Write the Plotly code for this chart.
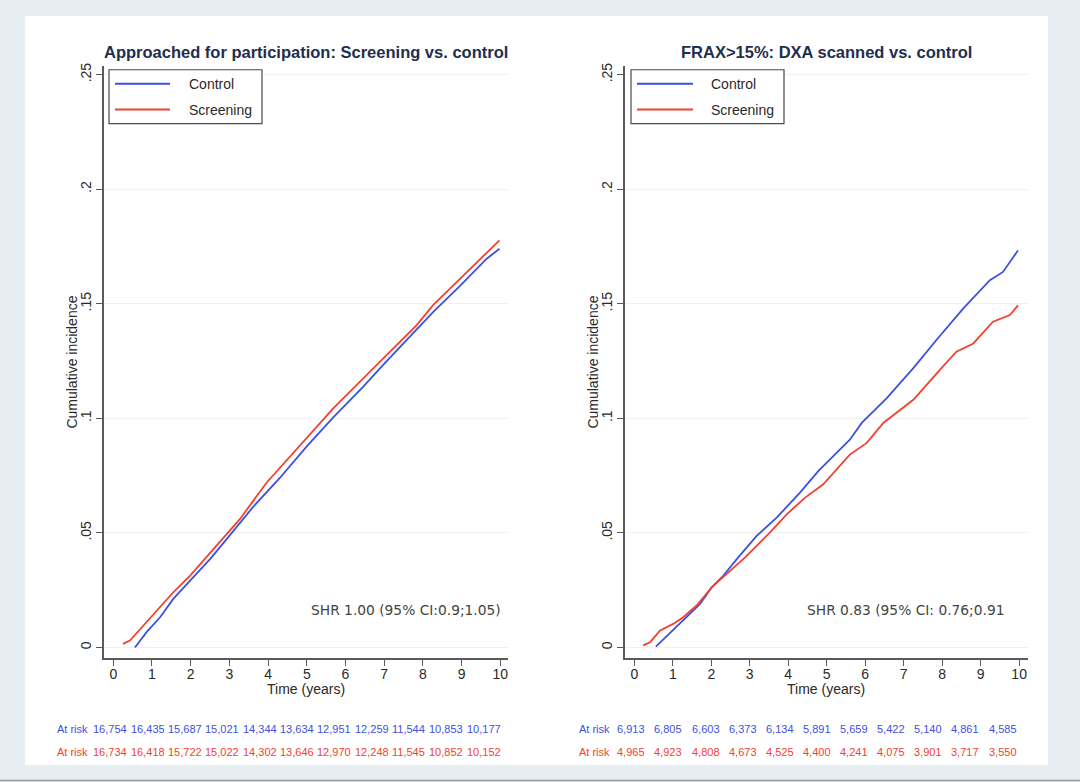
import plotly.graph_objects as go

# ---------------- data ----------------
# Panel A: Approached for participation
t_ctrl_a = [0.56, 0.86, 1.21, 1.55, 1.98, 2.50, 2.93, 3.27, 3.62, 4.31, 5.00, 5.69, 6.46, 6.98, 7.75, 8.27, 8.96, 9.65, 9.98]
ci_ctrl_a = [0.0, 0.0067, 0.0132, 0.0212, 0.0291, 0.0386, 0.0473, 0.0545, 0.0615, 0.0741, 0.0878, 0.1005, 0.1139, 0.1235, 0.1371, 0.1465, 0.1578, 0.1697, 0.1740]
t_scr_a = [0.25, 0.43, 0.78, 1.12, 1.55, 1.98, 2.58, 3.00, 3.27, 3.96, 4.65, 5.26, 5.69, 6.46, 7.24, 7.84, 8.27, 8.96, 9.65, 9.98]
ci_scr_a = [0.0016, 0.0030, 0.0096, 0.0161, 0.0241, 0.0313, 0.0429, 0.0510, 0.0560, 0.0719, 0.0849, 0.0965, 0.1045, 0.1175, 0.1306, 0.1407, 0.1495, 0.1610, 0.1726, 0.1777]

# Panel B: FRAX>15%, DXA scanned
t_ctrl_b = [0.56, 1.01, 1.45, 1.71, 2.01, 2.31, 2.70, 3.18, 3.70, 4.30, 4.78, 5.30, 5.60, 5.91, 6.56, 7.25, 7.85, 8.55, 9.24, 9.58, 9.97]
ci_ctrl_b = [0.0004, 0.0078, 0.0146, 0.0190, 0.0262, 0.0313, 0.0393, 0.0487, 0.0567, 0.0675, 0.0770, 0.0857, 0.0907, 0.0980, 0.1088, 0.1219, 0.1342, 0.1480, 0.1603, 0.1639, 0.1733]
t_scr_b = [0.23, 0.41, 0.67, 1.01, 1.27, 1.62, 2.01, 2.31, 2.88, 3.52, 3.96, 4.43, 4.91, 5.60, 6.04, 6.47, 7.25, 7.94, 8.37, 8.81, 9.32, 9.76, 9.97]
ci_scr_b = [0.0009, 0.0023, 0.0074, 0.0103, 0.0132, 0.0183, 0.0262, 0.0306, 0.0393, 0.0501, 0.0581, 0.0653, 0.0712, 0.0842, 0.0893, 0.0980, 0.1081, 0.1212, 0.1291, 0.1327, 0.1422, 0.1451, 0.1493]

risk_ctrl_a = ["16,754", "16,435", "15,687", "15,021", "14,344", "13,634", "12,951", "12,259", "11,544", "10,853", "10,177"]
risk_scr_a = ["16,734", "16,418", "15,722", "15,022", "14,302", "13,646", "12,970", "12,248", "11,545", "10,852", "10,152"]
risk_ctrl_b = ["6,913", "6,805", "6,603", "6,373", "6,134", "5,891", "5,659", "5,422", "5,140", "4,861", "4,585"]
risk_scr_b = ["4,965", "4,923", "4,808", "4,673", "4,525", "4,400", "4,241", "4,075", "3,901", "3,717", "3,550"]

y_tickvals = [0, 0.05, 0.1, 0.15, 0.2, 0.25]
y_ticktext = ["0", ".05", ".1", ".15", ".2", ".25"]
x_tickvals = list(range(0, 11))

titles = ["Approached for participation: Screening vs. control", "FRAX>15%: DXA scanned vs. control"]
shr_texts = ["SHR 1.00 (95% CI:0.9;1.05)", "SHR 0.83 (95% CI: 0.76;0.91"]
series_names = ["Control", "Screening"]

# ---------------- style ----------------
W, H = 1080, 782
BLUE = "#3d50e2"
RED = "#f2412f"
AXC = "#5a5a5a"
TXT = "#2a2a2a"
FONT = "Liberation Sans, Arial, sans-serif"


def px(x):
    return x / W


def py(y):
    return 1 - y / H


fig = go.Figure()

fig.add_trace(go.Scatter(x=t_ctrl_a, y=ci_ctrl_a, mode="lines", name="Control",
                         line=dict(color=BLUE, width=1.8), xaxis="x", yaxis="y", showlegend=False))
fig.add_trace(go.Scatter(x=t_scr_a, y=ci_scr_a, mode="lines", name="Screening",
                         line=dict(color=RED, width=1.8), xaxis="x", yaxis="y", showlegend=False))
fig.add_trace(go.Scatter(x=t_ctrl_b, y=ci_ctrl_b, mode="lines", name="Control",
                         line=dict(color=BLUE, width=1.8), xaxis="x2", yaxis="y2", showlegend=False))
fig.add_trace(go.Scatter(x=t_scr_b, y=ci_scr_b, mode="lines", name="Screening",
                         line=dict(color=RED, width=1.8), xaxis="x2", yaxis="y2", showlegend=False))

ydom = [py(658), py(63)]
yrange = [-0.0048, 0.2539]

common_x = dict(tickmode="array", tickvals=x_tickvals, showline=True, linecolor=AXC, linewidth=1.5,
                ticks="outside", ticklen=6, tickwidth=1.2, tickcolor=AXC, showgrid=False, zeroline=False,
                ticklabelstandoff=-4,
                tickfont=dict(family=FONT, size=14, color=TXT))
common_y = dict(tickmode="array", tickvals=y_tickvals, ticktext=y_ticktext, tickangle=-90,
                showline=True, linecolor=AXC, linewidth=1.5, ticks="outside", ticklen=6, tickwidth=1.2,
                tickcolor=AXC, showgrid=True, gridcolor="#eef2f4", gridwidth=1, zeroline=False,
                range=yrange, domain=ydom, tickfont=dict(family=FONT, size=14, color=TXT))

fig.update_layout(
    width=W, height=H, autosize=False,
    margin=dict(l=0, r=0, t=0, b=0),
    paper_bgcolor="#e7eef1", plot_bgcolor="white",
    xaxis=dict(domain=[px(104), px(508)], range=[-0.24, 10.2], anchor="y", **common_x),
    yaxis=dict(anchor="x", **common_y),
    xaxis2=dict(domain=[px(625), px(1028)], range=[-0.242, 10.23], anchor="y2", **common_x),
    yaxis2=dict(anchor="x2", **common_y),
)

shapes = []
# white inner panel
shapes.append(dict(type="rect", xref="paper", yref="paper", x0=px(25), x1=px(1048), y0=py(765), y1=py(13),
                   fillcolor="white", line=dict(width=0), layer="below"))
# bottom border line
shapes.append(dict(type="line", xref="paper", yref="paper", x0=0, x1=1, y0=py(780.5), y1=py(780.5),
                   line=dict(color="#9a9a9a", width=1.5)))

annotations = []
panels = [
    dict(xa="x", ya="y", dom=(104, 508), leg_x=109, line_x=(115, 170), text_x=187, risk_label_x=72,
         rc=risk_ctrl_a, rs=risk_scr_a, shr_x=10.07, shr_anchor="right"),
    dict(xa="x2", ya="y2", dom=(625, 1028), leg_x=631, line_x=(637, 693), text_x=709, risk_label_x=594.5,
         rc=risk_ctrl_b, rs=risk_scr_b, shr_x=4.43, shr_anchor="left"),
]

for i, p in enumerate(panels):
    cx = (p["dom"][0] + p["dom"][1]) / 2
    # title
    annotations.append(dict(text="<b>" + titles[i] + "</b>", xref="paper", yref="paper", x=px(cx), y=py(49),
                            xanchor="center", yanchor="middle", showarrow=False,
                            font=dict(family=FONT, size=16.5, color="#1f2e4e")))
    # axis titles
    annotations.append(dict(text="Time (years)", xref="paper", yref="paper", x=px(cx), y=py(689),
                            xanchor="center", yanchor="middle", showarrow=False,
                            font=dict(family=FONT, size=14, color=TXT)))
    annotations.append(dict(text="Cumulative incidence", xref="paper", yref="paper",
                            x=px(p["dom"][0] - 32), y=py(361), textangle=-90,
                            xanchor="center", yanchor="middle", showarrow=False,
                            font=dict(family=FONT, size=14, color=TXT)))
    # legend box
    shapes.append(dict(type="rect", xref="paper", yref="paper", x0=px(p["leg_x"]), x1=px(p["leg_x"] + 153),
                       y0=py(121), y1=py(67), fillcolor="white", line=dict(color="#4a4a4a", width=1.2)))
    for name, col, yy in [(series_names[0], BLUE, 81), (series_names[1], RED, 107)]:
        shapes.append(dict(type="line", xref="paper", yref="paper", x0=px(p["line_x"][0]), x1=px(p["line_x"][1]),
                           y0=py(yy), y1=py(yy), line=dict(color=col, width=2)))
        annotations.append(dict(text=name, xref="paper", yref="paper", x=px(p["text_x"]), y=py(yy),
                                xanchor="left", yanchor="middle", showarrow=False,
                                font=dict(family=FONT, size=14, color=TXT)))
    # SHR text
    annotations.append(dict(text=shr_texts[i], xref=p["xa"], yref=p["ya"], x=p["shr_x"], y=0.0165,
                            xanchor=p["shr_anchor"], yanchor="middle", showarrow=False,
                            font=dict(family="DejaVu Sans, sans-serif", size=13.8, color="#444444")))
    # at-risk rows
    for vals, col, yy in [(p["rc"], BLUE, 729), (p["rs"], RED, 752)]:
        annotations.append(dict(text="At risk", xref="paper", yref="paper", x=px(p["risk_label_x"]), y=py(yy),
                                xanchor="center", yanchor="middle", showarrow=False,
                                font=dict(family=FONT, size=11, color=col)))
        for k, v in enumerate(vals):
            annotations.append(dict(text=v, xref=p["xa"], yref="paper", x=-0.08 + k * 0.965, y=py(yy),
                                    xanchor="center", yanchor="middle", showarrow=False,
                                    font=dict(family=FONT, size=11, color=col)))

fig.update_layout(shapes=shapes, annotations=annotations)
fig.write_html("out.html", config={"displayModeBar": False},
               post_script="document.body.style.margin='0';")
